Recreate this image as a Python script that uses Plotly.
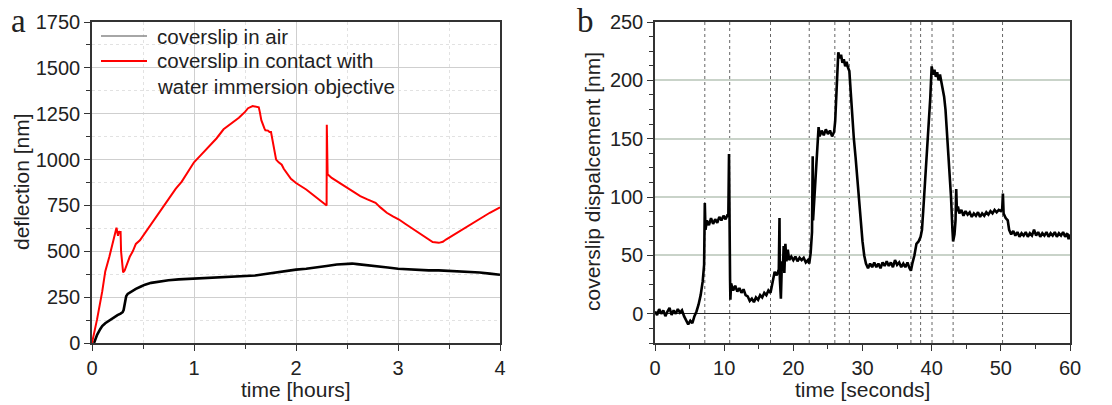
import plotly.graph_objects as go

# ---------------- data: panel a ----------------
air_t = [0.02, 0.05, 0.08, 0.10, 0.13, 0.16, 0.19, 0.22, 0.25, 0.28, 0.30, 0.31, 0.32, 0.335, 0.35,
         0.38, 0.43, 0.48, 0.52, 0.58, 0.67, 0.75, 0.85, 1.0, 1.1, 1.2, 1.3, 1.4, 1.5, 1.6, 1.7,
         1.8, 1.9, 2.0, 2.1, 2.2, 2.3, 2.4, 2.5, 2.55, 2.6, 2.7, 2.8, 2.9, 3.0, 3.1, 3.2, 3.3,
         3.4, 3.5, 3.6, 3.7, 3.8, 3.9, 4.0]
air_nm = [0, 45, 75, 92, 108, 120, 130, 143, 152, 160, 168, 180, 215, 255, 268,
          280, 295, 308, 318, 328, 337, 342, 347, 351, 353, 356, 358, 360, 364, 368, 376,
          385, 392, 400, 405, 411, 420, 428, 432, 433, 430, 425, 420, 412, 405, 401, 398, 396,
          396, 394, 392, 388, 384, 378, 372]

water_t = [0, 0.05, 0.10, 0.13, 0.17, 0.21, 0.24, 0.255, 0.265, 0.275, 0.28, 0.285, 0.295, 0.305,
           0.32, 0.34, 0.37, 0.40, 0.43, 0.47, 0.52, 0.58, 0.64, 0.70, 0.76, 0.82, 0.88, 0.94,
           1.00, 1.06, 1.14, 1.22, 1.29, 1.36, 1.44, 1.50, 1.53, 1.575, 1.60, 1.635, 1.645,
           1.66, 1.69, 1.70, 1.725, 1.74, 1.755, 1.77, 1.79, 1.805, 1.83, 1.86, 1.88, 1.90,
           1.95, 2.0, 2.05, 2.10, 2.15, 2.20, 2.25, 2.30, 2.302, 2.31, 2.35, 2.40, 2.45, 2.49,
           2.53, 2.58, 2.63, 2.70, 2.78, 2.83, 2.89, 2.95, 3.01, 3.07, 3.13, 3.19, 3.25, 3.30,
           3.34, 3.40, 3.44, 3.47, 3.54, 3.61, 3.71, 3.80, 3.90, 4.0]
water_nm = [0, 130, 280, 390, 470, 560, 628, 585, 610, 598, 610, 500, 420, 385,
            395, 430, 470, 500, 540, 560, 600, 650, 695, 740, 795, 840, 880, 930,
            985, 1020, 1065, 1115, 1165, 1195, 1228, 1260, 1280, 1292, 1290, 1285, 1260,
            1215, 1170, 1160, 1158, 1150, 1150, 1110, 1060, 1000, 985, 972, 950, 935,
            895, 872, 855, 837, 815, 792, 772, 750, 1190, 920, 900, 883, 865, 850,
            837, 818, 801, 783, 764, 738, 710, 690, 673, 650, 628, 605, 582, 563,
            550, 546, 552, 564, 588, 610, 646, 678, 710, 740]

# ---------------- data: panel b ----------------
disp_t = [0, 0.3, 0.6, 0.9, 1.2, 1.5, 1.8, 2.1, 2.4, 2.7, 3.0, 3.3, 3.6, 3.9, 4.2,
          4.5, 4.8, 5.1, 5.4, 5.7, 6.0, 6.3, 6.6, 6.9, 7.1, 7.2, 7.3, 7.5, 7.8, 8.1, 8.4,
          8.7, 9.0, 9.3, 9.6, 9.9, 10.2, 10.5, 10.6, 10.7, 10.75, 10.8, 10.85, 10.9, 11.0,
          11.3, 11.6, 11.9, 12.2, 12.5, 12.8, 13.1, 13.4, 13.7, 14.0, 14.3, 14.6, 14.9, 15.2,
          15.5, 15.8, 16.1, 16.4, 16.7, 17.0, 17.3, 17.6, 17.9, 18.0, 18.05, 18.2, 18.35, 18.5,
          18.6, 18.7, 18.85, 19.0, 19.2, 19.4, 19.7, 20.0, 20.3, 20.6, 20.9, 21.2, 21.5, 21.8,
          22.1, 22.3, 22.5, 22.7, 22.8, 22.85, 23.0, 23.2, 23.4, 23.55, 23.65, 23.8, 24.1, 24.4,
          24.7, 25.0, 25.3, 25.6, 25.9, 26.05, 26.3, 26.5, 26.7, 26.9, 27.1, 27.3, 27.5, 27.7,
          27.9, 28.1, 28.3, 28.5, 28.75, 29.0, 29.25, 29.5, 29.75, 30.0, 30.25, 30.5, 30.8,
          31.1, 31.4, 31.7, 32.0, 32.3, 32.6, 32.9, 33.2, 33.5, 33.8, 34.1, 34.4, 34.7, 35.0,
          35.3, 35.6, 35.9, 36.2, 36.5, 36.8, 37.0, 37.2, 37.5, 37.8, 38.1, 38.4, 38.6, 38.8,
          39.0, 39.2, 39.4, 39.6, 39.8, 40.0, 40.2, 40.4, 40.6, 40.8, 41.0, 41.2, 41.4, 41.6,
          41.8, 42.0, 42.2, 42.4, 42.6, 42.8, 43.0, 43.1, 43.3, 43.45, 43.55, 43.65, 43.8, 44.0,
          44.3, 44.6, 44.9, 45.2, 45.5, 45.8, 46.1, 46.4, 46.7, 47.0, 47.3, 47.6, 47.9, 48.2,
          48.5, 48.8, 49.1, 49.4, 49.7, 50.0, 50.2, 50.3, 50.4, 50.7, 51.0, 51.2, 51.5, 51.8,
          52.1, 52.4, 52.7, 53.0, 53.3, 53.6, 53.9, 54.2, 54.5, 54.8, 55.1, 55.4, 55.7, 56.0,
          56.3, 56.6, 56.9, 57.2, 57.5, 57.8, 58.1, 58.4, 58.7, 59.0, 59.3, 59.6, 59.8, 60.0]
disp_nm = [2, -1, 4, 0, 3, -2, 2, 5, -1, 3, 0, 4, 1, 3, -2,
           -5, -9, -6, -8, -2, 2, 8, 16, 28, 42, 95, 72, 80, 76, 82, 77,
           81, 78, 83, 80, 84, 81, 85, 83, 137, 60, 100, 30, 12, 26,
           20, 24, 19, 22, 18, 21, 16, 15, 11, 13, 10, 14, 12, 16,
           14, 18, 16, 20, 18, 27, 36, 33, 38, 82, 30, 13, 45, 40,
           58, 35, 60, 45, 55, 46, 49, 46, 49, 45, 48, 46, 48, 44,
           46, 43, 52, 70, 135, 80, 95, 110, 130, 150, 160, 152, 157, 153,
           158, 154, 157, 152, 156, 165, 195, 224, 219, 222, 215, 218, 212, 216,
           211, 208, 190, 170, 150, 134, 115, 97, 78, 62, 50, 43, 39,
           43, 40, 44, 40, 43, 39, 44, 41, 45, 41, 44, 40, 46, 42,
           44, 40, 43, 40, 44, 39, 37, 43, 50, 60, 62, 66, 72, 90,
           108, 122, 140, 165, 185, 212, 205, 209, 203, 207, 200, 205, 199, 195,
           186, 175, 158, 140, 120, 100, 72, 62, 68, 80, 107, 88, 92, 86,
           89, 84, 88, 85, 87, 83, 86, 84, 87, 83, 86, 84, 87, 85,
           88, 86, 89, 87, 89, 88, 90, 103, 86, 82, 80, 72, 68, 71,
           67, 70, 66, 69, 67, 70, 66, 69, 67, 72, 67, 70, 66, 69,
           67, 70, 66, 69, 67, 70, 66, 69, 67, 70, 66, 69, 64, 68]

event_times = [7.2, 10.8, 16.7, 22.3, 26.0, 28.1, 37.0, 38.4, 40.05, 43.1, 50.25]

# ---------------- layout helpers ----------------
W, H = 1112, 405
def px(x):
    return x / W
def py(y):
    return 1 - y / H

FONT = "Liberation Sans, Arial, sans-serif"
SERIF = "Liberation Serif, DejaVu Serif, serif"
TICKFONT = dict(family=FONT, size=20, color="#222")

fig = go.Figure()
fig.add_trace(go.Scatter(x=air_t, y=air_nm, mode="lines", xaxis="x", yaxis="y",
                         line=dict(color="black", width=2.6), showlegend=False))
fig.add_trace(go.Scatter(x=water_t, y=water_nm, mode="lines", xaxis="x", yaxis="y",
                         line=dict(color="#ff0000", width=2), showlegend=False))
fig.add_trace(go.Scatter(x=disp_t, y=disp_nm, mode="lines", xaxis="x2", yaxis="y2",
                         line=dict(color="black", width=2.6), showlegend=False))

ydom = [py(343), py(22)]
common_axis = dict(showline=True, linecolor="#333", linewidth=1.5, mirror=True,
                   ticks="outside", ticklen=6, tickwidth=1.2, tickcolor="#333",
                   tickfont=TICKFONT, automargin=False)

shapes = []
for et in event_times:
    shapes.append(dict(type="line", xref="x2", yref="y2", x0=et, x1=et, y0=-25, y1=250,
                       line=dict(color="#666", width=1, dash="dot"), layer="below"))
# legend sample lines
shapes.append(dict(type="line", xref="paper", yref="paper", x0=px(101), x1=px(147),
                   y0=py(36), y1=py(36), line=dict(color="#888", width=1.3)))
shapes.append(dict(type="line", xref="paper", yref="paper", x0=px(101), x1=px(147),
                   y0=py(61), y1=py(61), line=dict(color="#ff0000", width=2)))

ann = []
def text(x, y, s, size=20, angle=0, xanchor="center", family=FONT):
    ann.append(dict(x=px(x), y=py(y), xref="paper", yref="paper", text=s, showarrow=False,
                    xanchor=xanchor, yanchor="middle", textangle=angle,
                    font=dict(family=family, size=size, color="#222")))

text(155, 36, "coverslip in air", size=20.5, xanchor="left")
text(155, 61, "coverslip in contact with", size=20.5, xanchor="left")
text(155, 86, "water immersion objective", size=20.5, xanchor="left")
text(21, 182, "deflection [nm]", size=21, angle=-90)
text(296, 389, "time [hours]", size=21)
text(592, 182, "coverslip dispalcement [nm]", size=21, angle=-90)
text(862, 389, "time [seconds]", size=21)
text(18, 21, "a", size=33, family=SERIF)
text(585, 21, "b", size=33, family=SERIF)

fig.update_layout(
    width=W, height=H, autosize=False,
    margin=dict(l=0, r=0, t=0, b=0, autoexpand=False),
    paper_bgcolor="white", plot_bgcolor="white",
    showlegend=False,
    xaxis=dict(domain=[px(92), px(500)], range=[0, 4], dtick=1, anchor="y",
               showgrid=True, gridcolor="#cfcfcf", gridwidth=1, zeroline=False,
               minor=dict(dtick=0.5, ticks="outside", ticklen=4, tickcolor="#333",
                          showgrid=True, gridcolor="#e2e2e2", griddash="dot"),
               **common_axis),
    yaxis=dict(domain=ydom, range=[0, 1750], dtick=250, anchor="x",
               showgrid=True, gridcolor="#cfcfcf", gridwidth=1, zeroline=False,
               minor=dict(dtick=125, ticks="outside", ticklen=4, tickcolor="#333",
                          showgrid=True, gridcolor="#e2e2e2", griddash="dot"),
               **common_axis),
    xaxis2=dict(domain=[px(655), px(1070)], range=[0, 60], dtick=10, anchor="y2",
                showgrid=False, zeroline=False,
                minor=dict(dtick=5, ticks="outside", ticklen=4, tickcolor="#333"),
                **common_axis),
    yaxis2=dict(domain=ydom, range=[-25, 250], dtick=50, tick0=0, anchor="x2",
                showgrid=True, gridcolor="#c9d3c9", gridwidth=1.5,
                zeroline=True, zerolinecolor="#222", zerolinewidth=1.2,
                minor=dict(dtick=12.5, tick0=0, ticks="outside", ticklen=4, tickcolor="#333"),
                **common_axis),
    shapes=shapes,
    annotations=ann,
)

# remove the browser's default 8px body margin so the figure fills the window exactly
fig.write_html("out.html", config={"displayModeBar": False},
               post_script="document.body.style.margin='0px';")
